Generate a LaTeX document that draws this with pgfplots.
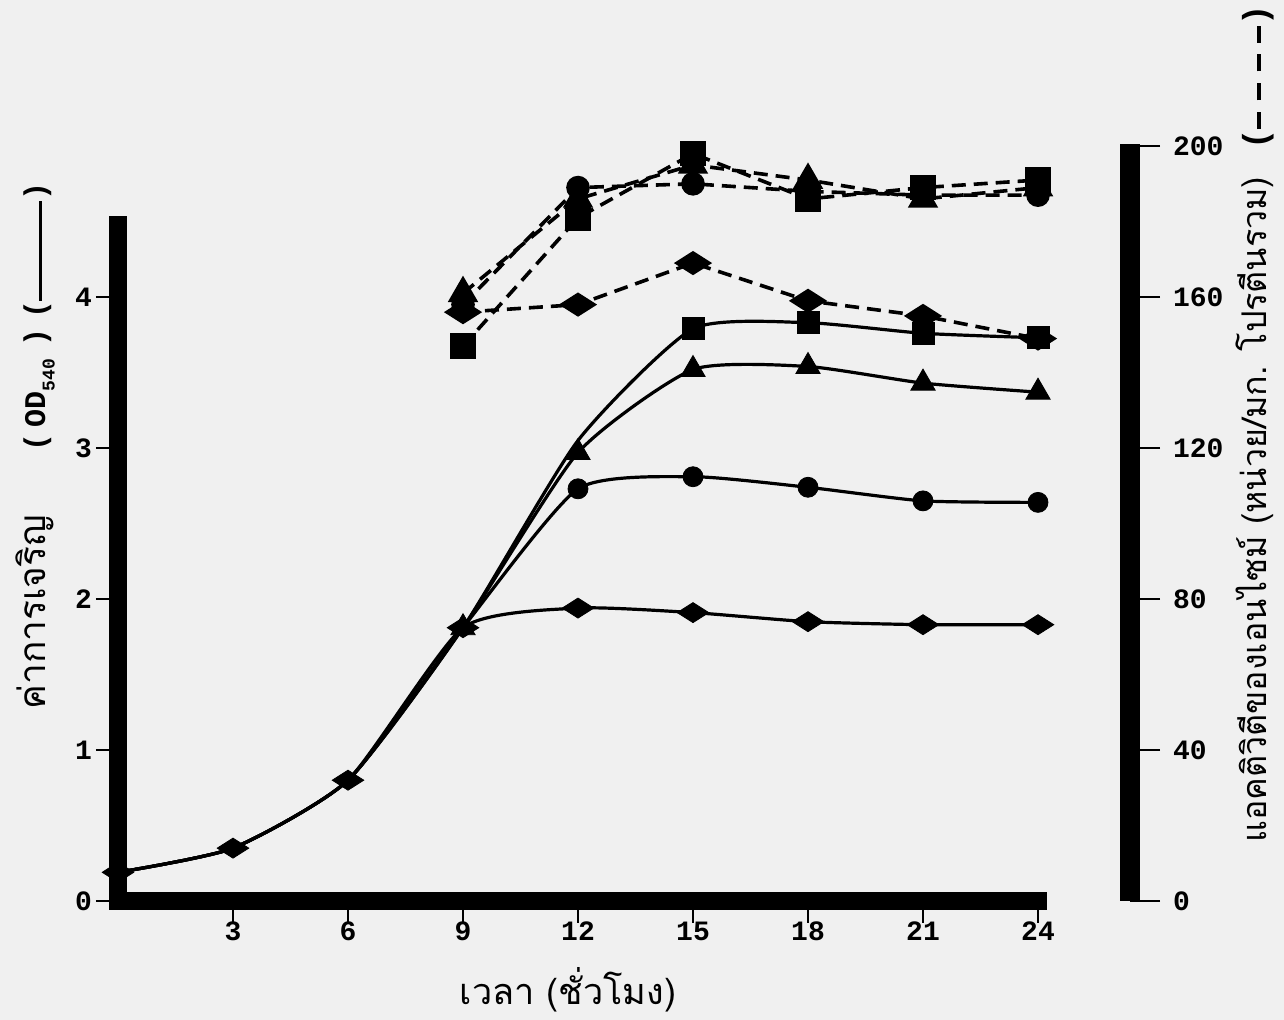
\documentclass[border=0pt]{standalone}
\usepackage{pgfplots}
\pgfplotsset{compat=1.18}
\usepackage{fontspec}
\newfontfamily\thaifont[Script=Thai]{Loma}
\newfontfamily\tickfont{Liberation Mono}
\begin{document}
\begin{tikzpicture}
\fill[black!6] (0,0) rectangle (642pt,510pt);
\useasboundingbox (0,0) rectangle (642pt,510pt);

% ---------------- main axis: growth OD540 (left) ----------------
\begin{axis}[
  at={(59pt,59.5pt)}, anchor=south west,
  scale only axis, width=460pt, height=338.2pt,
  xmin=0, xmax=24, ymin=0, ymax=4.48,
  axis x line*=bottom, axis y line*=left,
  axis line style={-, line width=9pt, line cap=rect},
  xtick={3,6,...,24}, ytick={0,1,2,3,4},
  tick align=outside, major tick length=11pt,
  tick style={line width=1.3pt, black},
  tick label style={font=\tickfont\bfseries\fontsize{14}{14}\selectfont},
  xticklabel style={yshift=4pt},
  yticklabel style={xshift=1.5pt},
  /pgf/number format/assume math mode=true,
  clip=false,
]
% solid lines (OD540)
\pgfplotsset{sld/.style={black, line width=1.6pt, smooth, tension=0.35}}
\addplot[sld] coordinates {
  (0,0.19) (3,0.35) (6,0.80) (9,1.81) (12,1.94) (15,1.91) (18,1.85) (21,1.83) (24,1.83)};
\addplot[sld] coordinates {
  (0,0.19) (3,0.35) (6,0.80) (9,1.81) (12,2.73) (15,2.81) (18,2.74) (21,2.65) (24,2.64)};
\addplot[sld] coordinates {
  (0,0.19) (3,0.35) (6,0.80) (9,1.81) (12,2.97) (15,3.52) (18,3.54) (21,3.43) (24,3.37)};
\addplot[sld] coordinates {
  (0,0.19) (3,0.35) (6,0.80) (9,1.81) (12,3.05) (15,3.79) (18,3.83) (21,3.76) (24,3.73)};
% markers of solid lines
\addplot[only marks, mark=diamond*, mark size=5pt, mark options={xscale=2.1, fill=black, draw=black}] coordinates {
  (0,0.19) (3,0.35) (6,0.80) (9,1.81) (12,1.94) (15,1.91) (18,1.85) (21,1.83) (24,1.83)};
\addplot[only marks, mark=*, mark size=5pt, mark options={fill=black, draw=black}] coordinates {
  (12,2.73) (15,2.81) (18,2.74) (21,2.65) (24,2.64)};
\addplot[only marks, mark=triangle*, mark size=7pt, mark options={fill=black, draw=black}] coordinates {
  (9,1.81) (12,2.97) (15,3.52) (18,3.54) (21,3.43) (24,3.37)};
\addplot[only marks, mark=square*, mark size=5.5pt, mark options={fill=black, draw=black}] coordinates {
  (15,3.79) (18,3.83) (21,3.76) (24,3.73)};
\end{axis}

% ---------------- second axis: enzyme activity (right) ----------------
\begin{axis}[
  at={(59pt,59.5pt)}, anchor=south west,
  scale only axis, width=506pt, height=378.4pt,
  xmin=0, xmax=26.4, ymin=0, ymax=200.5,
  axis x line=none, axis y line*=right,
  axis line style={-, line width=10pt},
  ytick={0,40,80,120,160,200},
  tick align=outside, major tick length=15pt,
  tick style={line width=1.3pt, black},
  tick label style={font=\tickfont\bfseries\fontsize{14}{14}\selectfont},
  yticklabel style={xshift=3pt},
  /pgf/number format/assume math mode=true,
  clip=false,
]
\pgfplotsset{dsh/.style={black, line width=1.8pt, dash pattern=on 7pt off 4pt}}
\addplot[dsh, mark=*, mark size=5pt, mark options={solid, fill=black}] coordinates {
  (9,158) (12,189) (15,190) (18,188) (21,187) (24,187)};
\addplot[dsh, mark=triangle*, mark size=7pt, mark options={solid, fill=black}] coordinates {
  (9,161) (12,186) (15,195) (18,191) (21,186) (24,189)};
\addplot[dsh, mark=square*, mark size=5.5pt, mark options={solid, fill=black}] coordinates {
  (9,147) (12,181) (15,198) (18,186) (21,189) (24,191)};
\addplot[dsh, mark=diamond*, mark size=5pt, mark options={solid, fill=black, xscale=2.1}] coordinates {
  (9,156) (12,158) (15,169) (18,159) (21,155) (24,149)};
\end{axis}

% ---------------- axis titles ----------------
\node[rotate=90, inner sep=0pt] at (17.5pt,287pt) {{\thaifont\fontsize{18.5}{18.5}\selectfont ค่าการเจริญ}\hspace{32pt}{\tickfont\bfseries\fontsize{15}{15}\selectfont (\hspace{3pt}OD\raisebox{-0.6ex}{\fontsize{9}{9}\selectfont 540}\hspace{6pt})\hspace{5pt}(}\rule[0.35ex]{50pt}{1.6pt}{\tickfont\bfseries\fontsize{15}{15}\selectfont )}};
\node[rotate=90, inner sep=0pt] at (627.5pt,298pt) {\thaifont\fontsize{17}{17}\selectfont แอคติวิตีของเอนไซม์ (หน่วย/มก. โปรตีนรวม)\hspace{0.8em}{\tickfont\bfseries (}\rule[0.35ex]{0.5em}{1.6pt}\hspace{0.35em}\rule[0.35ex]{0.5em}{1.6pt}\hspace{0.35em}\rule[0.35ex]{0.5em}{1.6pt}\hspace{0.35em}\rule[0.35ex]{0.5em}{1.6pt}{\tickfont\bfseries )}};
\node[inner sep=0pt] at (284pt,15pt) {\thaifont\fontsize{18}{18}\selectfont เวลา (ชั่วโมง)};
\end{tikzpicture}
\end{document}
